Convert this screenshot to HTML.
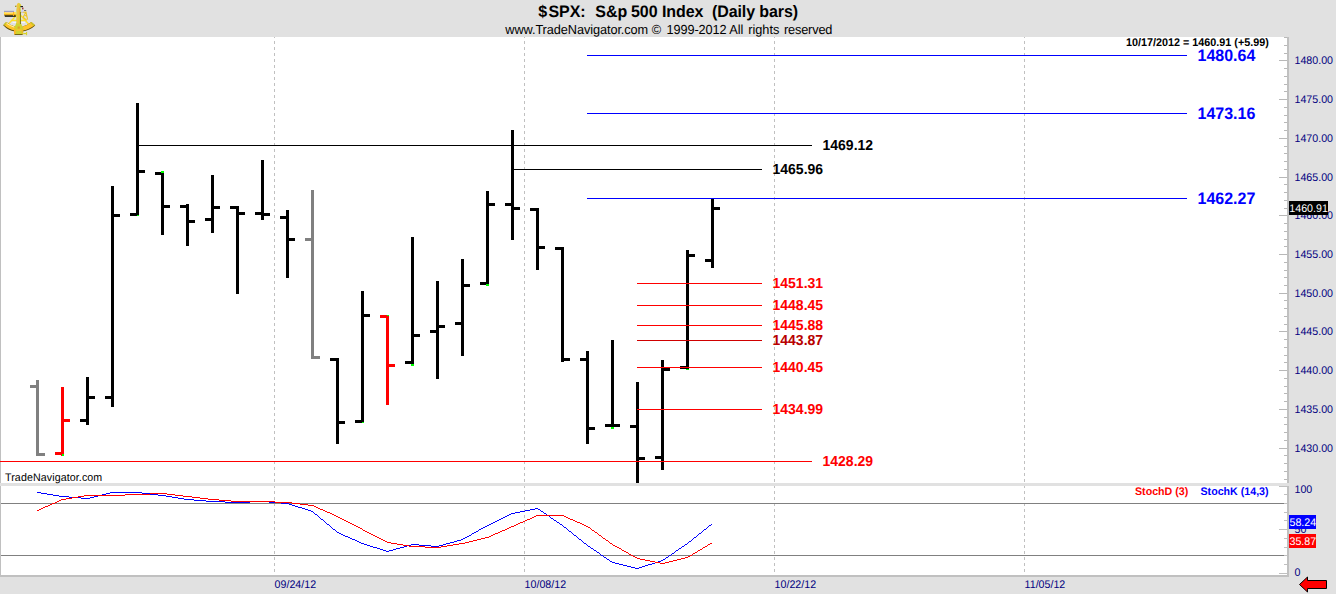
<!DOCTYPE html>
<html><head><meta charset="utf-8"><title>$SPX: S&amp;p 500 Index (Daily bars)</title>
<style>
html,body{margin:0;padding:0;width:1336px;height:594px;overflow:hidden;background:#e1e1e1;font-family:"Liberation Sans", sans-serif;}
</style></head><body>
<svg width="1336" height="594" viewBox="0 0 1336 594" style="position:absolute;left:0;top:0;display:block" shape-rendering="crispEdges">
<rect x="0" y="0" width="1336" height="594" fill="#e1e1e1"/>
<rect x="1" y="37" width="1286" height="446" fill="#ffffff"/>
<rect x="1" y="486" width="1286" height="89" fill="#ffffff"/>
<line x1="274.5" y1="35" x2="274.5" y2="575" stroke="#c0c0c0" stroke-width="1" stroke-dasharray="3 3"/>
<line x1="524.5" y1="35" x2="524.5" y2="575" stroke="#c0c0c0" stroke-width="1" stroke-dasharray="3 3"/>
<line x1="774.5" y1="35" x2="774.5" y2="575" stroke="#c0c0c0" stroke-width="1" stroke-dasharray="3 3"/>
<line x1="1024.5" y1="35" x2="1024.5" y2="575" stroke="#c0c0c0" stroke-width="1" stroke-dasharray="3 3"/>
<rect x="0" y="0" width="1336" height="37" fill="#e1e1e1"/>
<rect x="0" y="37" width="1" height="540" fill="#c0c0c0"/>
<rect x="0" y="575" width="1289" height="2" fill="#c0c0c0"/>
<rect x="1287" y="37" width="2" height="540" fill="#c0c0c0"/>
<rect x="0" y="483" width="1289" height="3" fill="#e1e1e1"/>
<rect x="1" y="503" width="1283" height="1" fill="#808080"/>
<rect x="1" y="555" width="1283" height="1" fill="#808080"/>
<rect x="1284" y="479" width="3" height="1" fill="#b8b8b8"/>
<rect x="1284" y="471" width="3" height="1" fill="#b8b8b8"/>
<rect x="1284" y="463" width="3" height="1" fill="#b8b8b8"/>
<rect x="1284" y="455" width="3" height="1" fill="#b8b8b8"/>
<rect x="1279" y="448" width="8" height="1" fill="#b8b8b8"/>
<rect x="1284" y="440" width="3" height="1" fill="#b8b8b8"/>
<rect x="1284" y="432" width="3" height="1" fill="#b8b8b8"/>
<rect x="1284" y="424" width="3" height="1" fill="#b8b8b8"/>
<rect x="1284" y="417" width="3" height="1" fill="#b8b8b8"/>
<rect x="1279" y="409" width="8" height="1" fill="#b8b8b8"/>
<rect x="1284" y="401" width="3" height="1" fill="#b8b8b8"/>
<rect x="1284" y="393" width="3" height="1" fill="#b8b8b8"/>
<rect x="1284" y="386" width="3" height="1" fill="#b8b8b8"/>
<rect x="1284" y="378" width="3" height="1" fill="#b8b8b8"/>
<rect x="1279" y="370" width="8" height="1" fill="#b8b8b8"/>
<rect x="1284" y="362" width="3" height="1" fill="#b8b8b8"/>
<rect x="1284" y="355" width="3" height="1" fill="#b8b8b8"/>
<rect x="1284" y="347" width="3" height="1" fill="#b8b8b8"/>
<rect x="1284" y="339" width="3" height="1" fill="#b8b8b8"/>
<rect x="1279" y="331" width="8" height="1" fill="#b8b8b8"/>
<rect x="1284" y="324" width="3" height="1" fill="#b8b8b8"/>
<rect x="1284" y="316" width="3" height="1" fill="#b8b8b8"/>
<rect x="1284" y="308" width="3" height="1" fill="#b8b8b8"/>
<rect x="1284" y="300" width="3" height="1" fill="#b8b8b8"/>
<rect x="1279" y="293" width="8" height="1" fill="#b8b8b8"/>
<rect x="1284" y="285" width="3" height="1" fill="#b8b8b8"/>
<rect x="1284" y="277" width="3" height="1" fill="#b8b8b8"/>
<rect x="1284" y="270" width="3" height="1" fill="#b8b8b8"/>
<rect x="1284" y="262" width="3" height="1" fill="#b8b8b8"/>
<rect x="1279" y="254" width="8" height="1" fill="#b8b8b8"/>
<rect x="1284" y="246" width="3" height="1" fill="#b8b8b8"/>
<rect x="1284" y="239" width="3" height="1" fill="#b8b8b8"/>
<rect x="1284" y="231" width="3" height="1" fill="#b8b8b8"/>
<rect x="1284" y="223" width="3" height="1" fill="#b8b8b8"/>
<rect x="1279" y="215" width="8" height="1" fill="#b8b8b8"/>
<rect x="1284" y="208" width="3" height="1" fill="#b8b8b8"/>
<rect x="1284" y="200" width="3" height="1" fill="#b8b8b8"/>
<rect x="1284" y="192" width="3" height="1" fill="#b8b8b8"/>
<rect x="1284" y="184" width="3" height="1" fill="#b8b8b8"/>
<rect x="1279" y="177" width="8" height="1" fill="#b8b8b8"/>
<rect x="1284" y="169" width="3" height="1" fill="#b8b8b8"/>
<rect x="1284" y="161" width="3" height="1" fill="#b8b8b8"/>
<rect x="1284" y="153" width="3" height="1" fill="#b8b8b8"/>
<rect x="1284" y="146" width="3" height="1" fill="#b8b8b8"/>
<rect x="1279" y="138" width="8" height="1" fill="#b8b8b8"/>
<rect x="1284" y="130" width="3" height="1" fill="#b8b8b8"/>
<rect x="1284" y="122" width="3" height="1" fill="#b8b8b8"/>
<rect x="1284" y="115" width="3" height="1" fill="#b8b8b8"/>
<rect x="1284" y="107" width="3" height="1" fill="#b8b8b8"/>
<rect x="1279" y="99" width="8" height="1" fill="#b8b8b8"/>
<rect x="1284" y="91" width="3" height="1" fill="#b8b8b8"/>
<rect x="1284" y="84" width="3" height="1" fill="#b8b8b8"/>
<rect x="1284" y="76" width="3" height="1" fill="#b8b8b8"/>
<rect x="1284" y="68" width="3" height="1" fill="#b8b8b8"/>
<rect x="1279" y="60" width="8" height="1" fill="#b8b8b8"/>
<rect x="1284" y="53" width="3" height="1" fill="#b8b8b8"/>
<rect x="1284" y="45" width="3" height="1" fill="#b8b8b8"/>
<rect x="1284" y="37" width="3" height="1" fill="#b8b8b8"/>
<rect x="1279" y="573" width="8" height="1" fill="#c0c0c0"/>
<rect x="1284" y="564" width="3" height="1" fill="#c0c0c0"/>
<rect x="1284" y="555" width="3" height="1" fill="#c0c0c0"/>
<rect x="1284" y="547" width="3" height="1" fill="#c0c0c0"/>
<rect x="1284" y="538" width="3" height="1" fill="#c0c0c0"/>
<rect x="1279" y="529" width="8" height="1" fill="#c0c0c0"/>
<rect x="1284" y="520" width="3" height="1" fill="#c0c0c0"/>
<rect x="1284" y="512" width="3" height="1" fill="#c0c0c0"/>
<rect x="1284" y="503" width="3" height="1" fill="#c0c0c0"/>
<rect x="1284" y="494" width="3" height="1" fill="#c0c0c0"/>
<rect x="1279" y="486" width="8" height="1" fill="#c0c0c0"/>
<rect x="36" y="380" width="3" height="76" fill="#808080"/>
<rect x="30" y="385" width="6" height="3" fill="#808080"/>
<rect x="39" y="453" width="6" height="3" fill="#808080"/>
<rect x="61" y="387" width="3" height="69" fill="#ff0000"/>
<rect x="55" y="452" width="6" height="3" fill="#ff0000"/>
<rect x="64" y="419" width="6" height="3" fill="#ff0000"/>
<rect x="86" y="377" width="3" height="48" fill="#000000"/>
<rect x="80" y="419" width="6" height="3" fill="#000000"/>
<rect x="89" y="396" width="6" height="3" fill="#000000"/>
<rect x="111" y="186" width="3" height="221" fill="#000000"/>
<rect x="105" y="396" width="6" height="3" fill="#000000"/>
<rect x="114" y="214" width="6" height="3" fill="#000000"/>
<rect x="136" y="103" width="3" height="113" fill="#000000"/>
<rect x="130" y="213" width="6" height="3" fill="#000000"/>
<rect x="139" y="170" width="6" height="3" fill="#000000"/>
<rect x="161" y="171" width="3" height="64" fill="#000000"/>
<rect x="155" y="172" width="6" height="3" fill="#000000"/>
<rect x="164" y="205" width="6" height="3" fill="#000000"/>
<rect x="186" y="204" width="3" height="42" fill="#000000"/>
<rect x="180" y="205" width="6" height="3" fill="#000000"/>
<rect x="189" y="220" width="6" height="3" fill="#000000"/>
<rect x="211" y="175" width="3" height="58" fill="#000000"/>
<rect x="205" y="218" width="6" height="3" fill="#000000"/>
<rect x="214" y="206" width="6" height="3" fill="#000000"/>
<rect x="236" y="206" width="3" height="88" fill="#000000"/>
<rect x="230" y="206" width="6" height="3" fill="#000000"/>
<rect x="239" y="212" width="6" height="3" fill="#000000"/>
<rect x="261" y="160" width="3" height="60" fill="#000000"/>
<rect x="255" y="212" width="6" height="3" fill="#000000"/>
<rect x="264" y="213" width="6" height="3" fill="#000000"/>
<rect x="286" y="210" width="3" height="68" fill="#000000"/>
<rect x="280" y="216" width="6" height="3" fill="#000000"/>
<rect x="289" y="238" width="6" height="3" fill="#000000"/>
<rect x="311" y="190" width="3" height="169" fill="#808080"/>
<rect x="305" y="238" width="6" height="3" fill="#808080"/>
<rect x="314" y="356" width="6" height="3" fill="#808080"/>
<rect x="336" y="358" width="3" height="86" fill="#000000"/>
<rect x="330" y="358" width="6" height="3" fill="#000000"/>
<rect x="339" y="421" width="6" height="3" fill="#000000"/>
<rect x="361" y="291" width="3" height="132" fill="#000000"/>
<rect x="355" y="420" width="6" height="3" fill="#000000"/>
<rect x="364" y="314" width="6" height="3" fill="#000000"/>
<rect x="386" y="315" width="3" height="90" fill="#ff0000"/>
<rect x="380" y="315" width="6" height="3" fill="#ff0000"/>
<rect x="389" y="364" width="6" height="3" fill="#ff0000"/>
<rect x="411" y="237" width="3" height="129" fill="#000000"/>
<rect x="405" y="361" width="6" height="3" fill="#000000"/>
<rect x="414" y="334" width="6" height="3" fill="#000000"/>
<rect x="436" y="281" width="3" height="98" fill="#000000"/>
<rect x="430" y="330" width="6" height="3" fill="#000000"/>
<rect x="439" y="325" width="6" height="3" fill="#000000"/>
<rect x="461" y="259" width="3" height="97" fill="#000000"/>
<rect x="455" y="322" width="6" height="3" fill="#000000"/>
<rect x="464" y="284" width="6" height="3" fill="#000000"/>
<rect x="486" y="191" width="3" height="95" fill="#000000"/>
<rect x="480" y="282" width="6" height="3" fill="#000000"/>
<rect x="489" y="203" width="6" height="3" fill="#000000"/>
<rect x="511" y="130" width="3" height="110" fill="#000000"/>
<rect x="505" y="203" width="6" height="3" fill="#000000"/>
<rect x="514" y="207" width="6" height="3" fill="#000000"/>
<rect x="536" y="208" width="3" height="62" fill="#000000"/>
<rect x="530" y="208" width="6" height="3" fill="#000000"/>
<rect x="539" y="246" width="6" height="3" fill="#000000"/>
<rect x="561" y="247" width="3" height="115" fill="#000000"/>
<rect x="555" y="247" width="6" height="3" fill="#000000"/>
<rect x="564" y="358" width="6" height="3" fill="#000000"/>
<rect x="586" y="351" width="3" height="93" fill="#000000"/>
<rect x="580" y="358" width="6" height="3" fill="#000000"/>
<rect x="589" y="427" width="6" height="3" fill="#000000"/>
<rect x="611" y="340" width="3" height="89" fill="#000000"/>
<rect x="605" y="424" width="6" height="3" fill="#000000"/>
<rect x="614" y="424" width="6" height="3" fill="#000000"/>
<rect x="636" y="382" width="3" height="101" fill="#000000"/>
<rect x="630" y="425" width="6" height="3" fill="#000000"/>
<rect x="639" y="457" width="6" height="3" fill="#000000"/>
<rect x="661" y="360" width="3" height="110" fill="#000000"/>
<rect x="655" y="456" width="6" height="3" fill="#000000"/>
<rect x="664" y="368" width="6" height="3" fill="#000000"/>
<rect x="686" y="250" width="3" height="120" fill="#000000"/>
<rect x="680" y="366" width="6" height="3" fill="#000000"/>
<rect x="689" y="254" width="6" height="3" fill="#000000"/>
<rect x="711" y="198" width="3" height="70" fill="#000000"/>
<rect x="705" y="259" width="6" height="3" fill="#000000"/>
<rect x="714" y="207" width="6" height="3" fill="#000000"/>
<rect x="62" y="454" width="2" height="2" fill="#00ff00"/>
<rect x="137" y="215" width="2" height="1" fill="#00ff00"/>
<rect x="161" y="171" width="3" height="2" fill="#00ff00"/>
<rect x="362" y="422" width="2" height="1" fill="#00ff00"/>
<rect x="387" y="315" width="2" height="1" fill="#00ff00"/>
<rect x="411" y="364" width="3" height="2" fill="#00ff00"/>
<rect x="486" y="284" width="3" height="2" fill="#00ff00"/>
<rect x="611" y="427" width="3" height="2" fill="#00ff00"/>
<rect x="686" y="369" width="3" height="1" fill="#00ff00"/>
<rect x="587" y="55" width="600" height="1" fill="#0000ff"/>
<rect x="587" y="113" width="600" height="1" fill="#0000ff"/>
<rect x="587" y="198" width="600" height="1" fill="#0000ff"/>
<rect x="139" y="145" width="673" height="1" fill="#000000"/>
<rect x="514" y="169" width="248" height="1" fill="#000000"/>
<rect x="637" y="283" width="125" height="1" fill="#ff0000"/>
<rect x="637" y="305" width="125" height="1" fill="#ff0000"/>
<rect x="637" y="325" width="125" height="1" fill="#ff0000"/>
<rect x="637" y="367" width="125" height="1" fill="#ff0000"/>
<rect x="637" y="409" width="125" height="1" fill="#ff0000"/>
<rect x="637" y="340" width="125" height="1" fill="#d00000"/>
<rect x="0" y="461" width="812" height="1" fill="#ff0000"/>
<path d="M37 492h4v1h-4zM41 493h6v1h-6zM47 494h6v1h-6zM53 495h6v1h-6zM59 496h10v1h-10zM69 497h12v1h-12zM81 498h9v1h-9zM90 497h4v1h-4zM94 496h4v1h-4zM98 495h4v1h-4zM102 494h4v1h-4zM106 493h4v1h-4zM110 492h32v1h-32zM142 493h8v1h-8zM150 494h8v1h-8zM158 495h8v1h-8zM166 496h6v1h-6zM172 497h6v1h-6zM178 498h6v1h-6zM184 499h10v1h-10zM194 500h12v1h-12zM206 501h19v1h-19zM225 502h25v1h-25zM250 501h19v1h-19zM269 502h12v1h-12zM281 503h8v1h-8zM289 504h3v1h-3zM292 505h3v1h-3zM295 506h3v1h-3zM298 507h4v1h-4zM302 508h3v1h-3zM305 509h3v1h-3zM308 510h3v1h-3zM311 511h2v1h-2zM313 512h1v1h-1zM314 513h1v1h-1zM315 514h2v1h-2zM317 515h1v1h-1zM318 516h1v1h-1zM319 517h1v1h-1zM320 518h1v1h-1zM321 519h2v1h-2zM323 520h1v1h-1zM324 521h1v1h-1zM325 522h1v1h-1zM326 523h1v1h-1zM327 524h2v1h-2zM329 525h1v1h-1zM330 526h1v1h-1zM331 527h1v1h-1zM332 528h1v1h-1zM333 529h2v1h-2zM335 530h1v1h-1zM336 531h1v1h-1zM337 532h2v1h-2zM339 533h2v1h-2zM341 534h2v1h-2zM343 535h2v1h-2zM345 536h3v1h-3zM348 537h2v1h-2zM350 538h2v1h-2zM352 539h3v1h-3zM355 540h2v1h-2zM357 541h2v1h-2zM359 542h2v1h-2zM361 543h3v1h-3zM364 544h3v1h-3zM367 545h3v1h-3zM370 546h3v1h-3zM373 547h4v1h-4zM377 548h3v1h-3zM380 549h3v1h-3zM383 550h3v1h-3zM386 551h3v1h-3zM389 550h4v1h-4zM393 549h3v1h-3zM396 548h4v1h-4zM400 547h4v1h-4zM404 546h3v1h-3zM407 545h4v1h-4zM411 544h8v1h-8zM419 545h12v1h-12zM431 546h8v1h-8zM439 545h4v1h-4zM443 544h3v1h-3zM446 543h4v1h-4zM450 542h4v1h-4zM454 541h3v1h-3zM457 540h4v1h-4zM461 539h2v1h-2zM463 538h2v1h-2zM465 537h2v1h-2zM467 536h2v1h-2zM469 535h2v1h-2zM471 534h1v1h-1zM472 533h2v1h-2zM474 532h2v1h-2zM476 531h2v1h-2zM478 530h1v1h-1zM479 529h2v1h-2zM481 528h2v1h-2zM483 527h2v1h-2zM485 526h2v1h-2zM487 525h2v1h-2zM489 524h2v1h-2zM491 523h2v1h-2zM493 522h2v1h-2zM495 521h2v1h-2zM497 520h2v1h-2zM499 519h2v1h-2zM501 518h2v1h-2zM503 517h2v1h-2zM505 516h2v1h-2zM507 515h2v1h-2zM509 514h2v1h-2zM511 513h4v1h-4zM515 512h5v1h-5zM520 511h5v1h-5zM525 510h5v1h-5zM530 509h5v1h-5zM535 508h3v1h-3zM538 509h2v1h-2zM540 510h1v1h-1zM541 511h2v1h-2zM543 512h1v1h-1zM544 513h2v1h-2zM546 514h1v1h-1zM547 515h2v1h-2zM549 516h1v1h-1zM550 517h1v1h-1zM551 518h2v1h-2zM553 519h1v1h-1zM554 520h2v1h-2zM556 521h1v1h-1zM557 522h2v1h-2zM559 523h1v1h-1zM560 524h2v1h-2zM562 525h1v1h-1zM563 526h1v1h-1zM564 527h2v1h-2zM566 528h1v1h-1zM567 529h1v1h-1zM568 530h1v1h-1zM569 531h2v1h-2zM571 532h1v1h-1zM572 533h1v1h-1zM573 534h1v1h-1zM574 535h2v1h-2zM576 536h1v1h-1zM577 537h1v1h-1zM578 538h1v1h-1zM579 539h2v1h-2zM581 540h1v1h-1zM582 541h1v1h-1zM583 542h1v1h-1zM584 543h2v1h-2zM586 544h1v1h-1zM587 545h1v1h-1zM588 546h2v1h-2zM590 547h1v1h-1zM591 548h2v1h-2zM593 549h1v1h-1zM594 550h2v1h-2zM596 551h1v1h-1zM597 552h2v1h-2zM599 553h1v1h-1zM600 554h1v1h-1zM601 555h2v1h-2zM603 556h1v1h-1zM604 557h2v1h-2zM606 558h1v1h-1zM607 559h2v1h-2zM609 560h1v1h-1zM610 561h2v1h-2zM612 562h3v1h-3zM615 563h4v1h-4zM619 564h4v1h-4zM623 565h4v1h-4zM627 566h4v1h-4zM631 567h4v1h-4zM635 568h4v1h-4zM639 567h3v1h-3zM642 566h3v1h-3zM645 565h3v1h-3zM648 564h4v1h-4zM652 563h3v1h-3zM655 562h3v1h-3zM658 561h3v1h-3zM661 560h2v1h-2zM663 559h2v1h-2zM665 558h1v1h-1zM666 557h2v1h-2zM668 556h1v1h-1zM669 555h2v1h-2zM671 554h1v1h-1zM672 553h2v1h-2zM674 552h1v1h-1zM675 551h1v1h-1zM676 550h2v1h-2zM678 549h1v1h-1zM679 548h2v1h-2zM681 547h1v1h-1zM682 546h2v1h-2zM684 545h1v1h-1zM685 544h2v1h-2zM687 543h1v1h-1zM688 542h1v1h-1zM689 541h2v1h-2zM691 540h1v1h-1zM692 539h1v1h-1zM693 538h1v1h-1zM694 537h2v1h-2zM696 536h1v1h-1zM697 535h1v1h-1zM698 534h1v1h-1zM699 533h2v1h-2zM701 532h1v1h-1zM702 531h1v1h-1zM703 530h1v1h-1zM704 529h2v1h-2zM706 528h1v1h-1zM707 527h1v1h-1zM708 526h1v1h-1zM709 525h2v1h-2zM711 524h1v1h-1z" fill="#0000ff"/>
<path d="M37 510h2v1h-2zM39 509h2v1h-2zM41 508h2v1h-2zM43 507h2v1h-2zM45 506h3v1h-3zM48 505h2v1h-2zM50 504h2v1h-2zM52 503h3v1h-3zM55 502h2v1h-2zM57 501h2v1h-2zM59 500h2v1h-2zM61 499h5v1h-5zM66 498h6v1h-6zM72 497h6v1h-6zM78 496h6v1h-6zM84 495h41v1h-41zM125 494h25v1h-25zM150 493h17v1h-17zM167 494h8v1h-8zM175 495h8v1h-8zM183 496h9v1h-9zM192 497h8v1h-8zM200 498h8v1h-8zM208 499h11v1h-11zM219 500h12v1h-12zM231 501h44v1h-44zM275 502h17v1h-17zM292 503h8v1h-8zM300 504h8v1h-8zM308 505h6v1h-6zM314 506h2v1h-2zM316 507h2v1h-2zM318 508h2v1h-2zM320 509h3v1h-3zM323 510h2v1h-2zM325 511h2v1h-2zM327 512h3v1h-3zM330 513h2v1h-2zM332 514h2v1h-2zM334 515h2v1h-2zM336 516h2v1h-2zM338 517h2v1h-2zM340 518h2v1h-2zM342 519h2v1h-2zM344 520h2v1h-2zM346 521h2v1h-2zM348 522h2v1h-2zM350 523h2v1h-2zM352 524h2v1h-2zM354 525h2v1h-2zM356 526h2v1h-2zM358 527h2v1h-2zM360 528h2v1h-2zM362 529h1v1h-1zM363 530h2v1h-2zM365 531h2v1h-2zM367 532h2v1h-2zM369 533h2v1h-2zM371 534h2v1h-2zM373 535h2v1h-2zM375 536h2v1h-2zM377 537h2v1h-2zM379 538h2v1h-2zM381 539h2v1h-2zM383 540h2v1h-2zM385 541h2v1h-2zM387 542h4v1h-4zM391 543h6v1h-6zM397 544h6v1h-6zM403 545h6v1h-6zM409 546h16v1h-16zM425 547h16v1h-16zM441 546h6v1h-6zM447 545h6v1h-6zM453 544h6v1h-6zM459 543h6v1h-6zM465 542h4v1h-4zM469 541h4v1h-4zM473 540h4v1h-4zM477 539h4v1h-4zM481 538h4v1h-4zM485 537h4v1h-4zM489 536h2v1h-2zM491 535h2v1h-2zM493 534h2v1h-2zM495 533h3v1h-3zM498 532h2v1h-2zM500 531h2v1h-2zM502 530h3v1h-3zM505 529h2v1h-2zM507 528h2v1h-2zM509 527h2v1h-2zM511 526h3v1h-3zM514 525h2v1h-2zM516 524h2v1h-2zM518 523h2v1h-2zM520 522h3v1h-3zM523 521h2v1h-2zM525 520h2v1h-2zM527 519h3v1h-3zM530 518h2v1h-2zM532 517h2v1h-2zM534 516h2v1h-2zM536 515h28v1h-28zM564 516h2v1h-2zM566 517h2v1h-2zM568 518h2v1h-2zM570 519h3v1h-3zM573 520h2v1h-2zM575 521h2v1h-2zM577 522h3v1h-3zM580 523h2v1h-2zM582 524h2v1h-2zM584 525h2v1h-2zM586 526h2v1h-2zM588 527h2v1h-2zM590 528h1v1h-1zM591 529h1v1h-1zM592 530h2v1h-2zM594 531h1v1h-1zM595 532h2v1h-2zM597 533h1v1h-1zM598 534h1v1h-1zM599 535h2v1h-2zM601 536h1v1h-1zM602 537h1v1h-1zM603 538h2v1h-2zM605 539h1v1h-1zM606 540h2v1h-2zM608 541h1v1h-1zM609 542h1v1h-1zM610 543h2v1h-2zM612 544h1v1h-1zM613 545h2v1h-2zM615 546h2v1h-2zM617 547h2v1h-2zM619 548h2v1h-2zM621 549h1v1h-1zM622 550h2v1h-2zM624 551h2v1h-2zM626 552h2v1h-2zM628 553h1v1h-1zM629 554h2v1h-2zM631 555h2v1h-2zM633 556h2v1h-2zM635 557h2v1h-2zM637 558h3v1h-3zM640 559h5v1h-5zM645 560h5v1h-5zM650 561h5v1h-5zM655 562h5v1h-5zM660 563h5v1h-5zM665 562h4v1h-4zM669 561h4v1h-4zM673 560h4v1h-4zM677 559h4v1h-4zM681 558h4v1h-4zM685 557h3v1h-3zM688 556h2v1h-2zM690 555h2v1h-2zM692 554h1v1h-1zM693 553h2v1h-2zM695 552h2v1h-2zM697 551h1v1h-1zM698 550h2v1h-2zM700 549h2v1h-2zM702 548h1v1h-1zM703 547h2v1h-2zM705 546h2v1h-2zM707 545h1v1h-1zM708 544h2v1h-2zM710 543h2v1h-2z" fill="#ff0000"/>
<rect x="1289" y="201" width="39" height="14" fill="#000000"/>
<rect x="1289" y="515" width="27" height="14" fill="#0000ff"/>
<rect x="1289" y="534" width="27" height="14" fill="#ff0000"/>
<polygon points="1299.5,584.5 1307.5,577 1307.5,580.5 1326.5,580.5 1326.5,588.5 1307.5,588.5 1307.5,592" fill="#ff0000" stroke="#000000" stroke-width="1" shape-rendering="auto"/>
<g shape-rendering="auto" text-rendering="geometricPrecision">
<g transform="translate(0,16.9) scale(1,1.035) translate(0,-16.9)">
<text x="538.3" y="16.9" font-family='"Liberation Sans", sans-serif' font-size="16" font-weight="bold" fill="#000000" text-anchor="start"  >$</text>
<text x="548.6" y="16.9" font-family='"Liberation Sans", sans-serif' font-size="16" font-weight="bold" fill="#000000" text-anchor="start" letter-spacing="-0.15" >SPX:</text>
<text x="595.33" y="16.9" font-family='"Liberation Sans", sans-serif' font-size="16" font-weight="bold" fill="#000000" text-anchor="start"  >S&amp;p</text>
<text x="630.88" y="16.9" font-family='"Liberation Sans", sans-serif' font-size="16" font-weight="bold" fill="#000000" text-anchor="start"  >500</text>
<text x="662.02" y="16.9" font-family='"Liberation Sans", sans-serif' font-size="16" font-weight="bold" fill="#000000" text-anchor="start" letter-spacing="-0.1" >Index&#160; (Daily bars)</text>
</g>
<text x="505.3" y="33.7" font-family='"Liberation Sans", sans-serif' font-size="12.75" font-weight="normal" fill="#000000" text-anchor="start" letter-spacing="-0.09" transform="translate(0,33.7) scale(1,1.035) translate(0,-33.7)">www.TradeNavigator.com</text>
<text x="651.63" y="33.7" font-family='"Liberation Sans", sans-serif' font-size="12.75" font-weight="normal" fill="#000000" text-anchor="start"  transform="translate(0,33.7) scale(1,1.035) translate(0,-33.7)">©</text>
<text x="666.57" y="33.7" font-family='"Liberation Sans", sans-serif' font-size="12.75" font-weight="normal" fill="#000000" text-anchor="start" letter-spacing="-0.12" transform="translate(0,33.7) scale(1,1.035) translate(0,-33.7)">1999-2012</text>
<text x="729.28" y="33.7" font-family='"Liberation Sans", sans-serif' font-size="12.75" font-weight="normal" fill="#000000" text-anchor="start"  transform="translate(0,33.7) scale(1,1.035) translate(0,-33.7)">All</text>
<text x="748.2" y="33.7" font-family='"Liberation Sans", sans-serif' font-size="12.75" font-weight="normal" fill="#000000" text-anchor="start"  transform="translate(0,33.7) scale(1,1.035) translate(0,-33.7)">rights</text>
<text x="783.92" y="33.7" font-family='"Liberation Sans", sans-serif' font-size="12.75" font-weight="normal" fill="#000000" text-anchor="start" letter-spacing="-0.15" transform="translate(0,33.7) scale(1,1.035) translate(0,-33.7)">reserved</text>
<text x="1126" y="46.2" font-family='"Liberation Sans", sans-serif' font-size="10.8" font-weight="bold" fill="#000000" text-anchor="start"  transform="translate(0,46.2) scale(1,1.035) translate(0,-46.2)">10/17/2012 = 1460.91 (+5.99)</text>
<text x="1197.5" y="60.8" font-family='"Liberation Sans", sans-serif' font-size="16" font-weight="bold" fill="#0000ff" text-anchor="start"  transform="translate(0,60.8) scale(1,1.035) translate(0,-60.8)">1480.64</text>
<text x="1197.5" y="118.8" font-family='"Liberation Sans", sans-serif' font-size="16" font-weight="bold" fill="#0000ff" text-anchor="start"  transform="translate(0,118.8) scale(1,1.035) translate(0,-118.8)">1473.16</text>
<text x="1197.5" y="203.8" font-family='"Liberation Sans", sans-serif' font-size="16" font-weight="bold" fill="#0000ff" text-anchor="start"  transform="translate(0,203.8) scale(1,1.035) translate(0,-203.8)">1462.27</text>
<text x="822.5" y="150.3" font-family='"Liberation Sans", sans-serif' font-size="14" font-weight="bold" fill="#000000" text-anchor="start"  transform="translate(0,150.3) scale(1,1.035) translate(0,-150.3)">1469.12</text>
<text x="772.5" y="174.3" font-family='"Liberation Sans", sans-serif' font-size="14" font-weight="bold" fill="#000000" text-anchor="start"  transform="translate(0,174.3) scale(1,1.035) translate(0,-174.3)">1465.96</text>
<text x="772.5" y="287.9" font-family='"Liberation Sans", sans-serif' font-size="14" font-weight="bold" fill="#ff0000" text-anchor="start"  transform="translate(0,287.9) scale(1,1.035) translate(0,-287.9)">1451.31</text>
<text x="772.5" y="309.9" font-family='"Liberation Sans", sans-serif' font-size="14" font-weight="bold" fill="#ff0000" text-anchor="start"  transform="translate(0,309.9) scale(1,1.035) translate(0,-309.9)">1448.45</text>
<text x="772.5" y="329.9" font-family='"Liberation Sans", sans-serif' font-size="14" font-weight="bold" fill="#ff0000" text-anchor="start"  transform="translate(0,329.9) scale(1,1.035) translate(0,-329.9)">1445.88</text>
<text x="772.5" y="344.9" font-family='"Liberation Sans", sans-serif' font-size="14" font-weight="bold" fill="#b80000" text-anchor="start"  transform="translate(0,344.9) scale(1,1.035) translate(0,-344.9)">1443.87</text>
<text x="772.5" y="371.9" font-family='"Liberation Sans", sans-serif' font-size="14" font-weight="bold" fill="#ff0000" text-anchor="start"  transform="translate(0,371.9) scale(1,1.035) translate(0,-371.9)">1440.45</text>
<text x="772.5" y="413.9" font-family='"Liberation Sans", sans-serif' font-size="14" font-weight="bold" fill="#ff0000" text-anchor="start"  transform="translate(0,413.9) scale(1,1.035) translate(0,-413.9)">1434.99</text>
<text x="822.5" y="466.3" font-family='"Liberation Sans", sans-serif' font-size="14" font-weight="bold" fill="#ff0000" text-anchor="start"  transform="translate(0,466.3) scale(1,1.035) translate(0,-466.3)">1428.29</text>
<text x="5" y="481.3" font-family='"Liberation Sans", sans-serif' font-size="10.67" font-weight="normal" fill="#000000" text-anchor="start" letter-spacing="0.1" transform="translate(0,481.3) scale(1,1.035) translate(0,-481.3)">TradeNavigator.com</text>
<text x="1294.5" y="452.4" font-family='"Liberation Sans", sans-serif' font-size="10.67" font-weight="normal" fill="#000080" text-anchor="start"  transform="translate(0,452.4) scale(1,1.035) translate(0,-452.4)">1430.00</text>
<text x="1294.5" y="413.4" font-family='"Liberation Sans", sans-serif' font-size="10.67" font-weight="normal" fill="#000080" text-anchor="start"  transform="translate(0,413.4) scale(1,1.035) translate(0,-413.4)">1435.00</text>
<text x="1294.5" y="374.4" font-family='"Liberation Sans", sans-serif' font-size="10.67" font-weight="normal" fill="#000080" text-anchor="start"  transform="translate(0,374.4) scale(1,1.035) translate(0,-374.4)">1440.00</text>
<text x="1294.5" y="335.4" font-family='"Liberation Sans", sans-serif' font-size="10.67" font-weight="normal" fill="#000080" text-anchor="start"  transform="translate(0,335.4) scale(1,1.035) translate(0,-335.4)">1445.00</text>
<text x="1294.5" y="297.4" font-family='"Liberation Sans", sans-serif' font-size="10.67" font-weight="normal" fill="#000080" text-anchor="start"  transform="translate(0,297.4) scale(1,1.035) translate(0,-297.4)">1450.00</text>
<text x="1294.5" y="258.4" font-family='"Liberation Sans", sans-serif' font-size="10.67" font-weight="normal" fill="#000080" text-anchor="start"  transform="translate(0,258.4) scale(1,1.035) translate(0,-258.4)">1455.00</text>
<text x="1294.5" y="219.4" font-family='"Liberation Sans", sans-serif' font-size="10.67" font-weight="normal" fill="#000080" text-anchor="start"  transform="translate(0,219.4) scale(1,1.035) translate(0,-219.4)">1460.00</text>
<text x="1294.5" y="181.4" font-family='"Liberation Sans", sans-serif' font-size="10.67" font-weight="normal" fill="#000080" text-anchor="start"  transform="translate(0,181.4) scale(1,1.035) translate(0,-181.4)">1465.00</text>
<text x="1294.5" y="142.4" font-family='"Liberation Sans", sans-serif' font-size="10.67" font-weight="normal" fill="#000080" text-anchor="start"  transform="translate(0,142.4) scale(1,1.035) translate(0,-142.4)">1470.00</text>
<text x="1294.5" y="103.4" font-family='"Liberation Sans", sans-serif' font-size="10.67" font-weight="normal" fill="#000080" text-anchor="start"  transform="translate(0,103.4) scale(1,1.035) translate(0,-103.4)">1475.00</text>
<text x="1294.5" y="64.4" font-family='"Liberation Sans", sans-serif' font-size="10.67" font-weight="normal" fill="#000080" text-anchor="start"  transform="translate(0,64.4) scale(1,1.035) translate(0,-64.4)">1480.00</text>
<text x="1294.5" y="492.8" font-family='"Liberation Sans", sans-serif' font-size="10.67" font-weight="normal" fill="#000080" text-anchor="start"  transform="translate(0,492.8) scale(1,1.035) translate(0,-492.8)">100</text>
<text x="1294.5" y="533" font-family='"Liberation Sans", sans-serif' font-size="10.67" font-weight="normal" fill="#000080" text-anchor="start"  transform="translate(0,533) scale(1,1.035) translate(0,-533)">50</text>
<text x="1294.5" y="576" font-family='"Liberation Sans", sans-serif' font-size="10.67" font-weight="normal" fill="#000080" text-anchor="start"  transform="translate(0,576) scale(1,1.035) translate(0,-576)">0</text>
<rect x="1289" y="201" width="39" height="14" fill="#000000"/>
<rect x="1289" y="515" width="27" height="14" fill="#0000ff"/>
<rect x="1289" y="534" width="27" height="14" fill="#ff0000"/>
<text x="1289.3" y="212" font-family='"Liberation Sans", sans-serif' font-size="10.67" font-weight="normal" fill="#ffffff" text-anchor="start"  transform="translate(0,212) scale(1,1.035) translate(0,-212)">1460.91</text>
<text x="1289.5" y="526" font-family='"Liberation Sans", sans-serif' font-size="10.67" font-weight="normal" fill="#ffffff" text-anchor="start"  transform="translate(0,526) scale(1,1.035) translate(0,-526)">58.24</text>
<text x="1289.5" y="545" font-family='"Liberation Sans", sans-serif' font-size="10.67" font-weight="normal" fill="#ffffff" text-anchor="start"  transform="translate(0,545) scale(1,1.035) translate(0,-545)">35.87</text>
<text x="1135" y="495" font-family='"Liberation Sans", sans-serif' font-size="10.67" font-weight="bold" fill="#ff0000" text-anchor="start"  transform="translate(0,495) scale(1,1.035) translate(0,-495)">StochD (3)</text>
<text x="1200.5" y="495" font-family='"Liberation Sans", sans-serif' font-size="10.67" font-weight="bold" fill="#0000ff" text-anchor="start"  transform="translate(0,495) scale(1,1.035) translate(0,-495)">StochK (14,3)</text>
<text x="274.6" y="588.3" font-family='"Liberation Sans", sans-serif' font-size="10.67" font-weight="normal" fill="#000080" text-anchor="start" letter-spacing="0" transform="translate(0,588.3) scale(1,1.035) translate(0,-588.3)">09/24/12</text>
<text x="524.6" y="588.3" font-family='"Liberation Sans", sans-serif' font-size="10.67" font-weight="normal" fill="#000080" text-anchor="start" letter-spacing="0" transform="translate(0,588.3) scale(1,1.035) translate(0,-588.3)">10/08/12</text>
<text x="774.6" y="588.3" font-family='"Liberation Sans", sans-serif' font-size="10.67" font-weight="normal" fill="#000080" text-anchor="start" letter-spacing="0" transform="translate(0,588.3) scale(1,1.035) translate(0,-588.3)">10/22/12</text>
<text x="1024.6" y="588.3" font-family='"Liberation Sans", sans-serif' font-size="10.67" font-weight="normal" fill="#000080" text-anchor="start" letter-spacing="0" transform="translate(0,588.3) scale(1,1.035) translate(0,-588.3)">11/05/12</text>
</g>
<g shape-rendering="auto">
<!-- frame struts -->
<path d="M18.5,13 L8,24.5 M18.5,13 L29,24.5 M11,20.5 L26.5,20.5" stroke="#ffe028" stroke-width="1.3" fill="none"/>
<path d="M12.5,22.3 L16,22.3 M21.5,22.3 L25,22.3" stroke="#f4f4ff" stroke-width="1.2" fill="none"/>
<!-- arc band with dark underside -->
<path d="M3.2,25.3 L6.3,22 Q11,25.8 15,26.6 L15,31.6 Q8,30.6 3.2,25.3Z" fill="#5a4a08"/>
<path d="M35.2,25.6 L31.4,22 Q27,25.6 22.5,26.6 L22.5,31.6 Q29.5,30.8 35.2,25.6Z" fill="#5a4a08"/>
<path d="M3.6,24.6 L6.3,22 Q11,25.8 15,26.6 L15,30.6 Q8.5,29.8 3.6,24.6Z" fill="#ffc42a"/>
<path d="M34.8,24.9 L31.4,22 Q27,25.6 22.5,26.6 L22.5,30.6 Q29,29.8 34.8,24.9Z" fill="#ffc42a"/>
<path d="M3.6,24.6 L6.3,22 L7.2,23 L4.8,25.8Z" fill="#c8c428"/>
<path d="M34.8,24.9 L31.4,22 L30.4,23 L33.4,26Z" fill="#c8c428"/>
<path d="M6.5,23.2 Q10.5,26 14.5,27.2" stroke="#fff6b0" stroke-width="1" fill="none"/>
<!-- center base (trapezoid) -->
<path d="M16.4,23 L20.8,23 L23.3,28.5 L23.3,34.6 L14,34.6 L14,28.5Z" fill="#cfd230"/>
<rect x="14" y="28.5" width="1.7" height="5.6" fill="#ffb424"/>
<rect x="17.6" y="26.5" width="2.2" height="2.2" fill="#e0a028"/>
<rect x="16.5" y="29.5" width="5.6" height="1.3" fill="#ffc030"/>
<rect x="21.6" y="29.5" width="1.2" height="4" fill="#f0b028"/>
<rect x="14.6" y="34" width="8" height="0.9" fill="#6a5a08"/>
<!-- peg -->
<rect x="23.3" y="33" width="3" height="1.2" fill="#d8d228"/>
<rect x="26" y="32" width="1.1" height="3.2" fill="#d8d228"/>
<!-- pillar -->
<path d="M17.2,4.5 L20.2,4.5 L20.8,10 L20.8,24 L16.4,24 L16.4,10Z" fill="#d2d030"/>
<path d="M16.2,6.5 L17.2,4 L18.8,2.8 L20.6,4 L21.6,6.5Z" fill="#dcd030"/>
<rect x="17.3" y="3.6" width="1.2" height="20" fill="#ffbc4a"/>
<rect x="19" y="8" width="0.9" height="7" fill="#f0a838"/>
<rect x="20.2" y="12" width="0.8" height="12" fill="#6a6a10"/>
<rect x="15.1" y="5.7" width="1.2" height="1.2" fill="#908808"/>
<rect x="20.4" y="6" width="2.6" height="1.2" fill="#202020"/>
<rect x="22.2" y="7.6" width="1.2" height="1.8" fill="#8a1818"/>
<!-- mirror arm (outline style) -->
<path d="M21.2,12.3 L26,12 L27.6,19.6 M26,12 L23.2,17.2 M24.6,14.6 L27,16.6 M23.2,17.2 L26.6,20.2" stroke="#ecc428" stroke-width="1.15" fill="none"/>
<rect x="24" y="10" width="2.2" height="1" fill="#707070"/>
<rect x="21.3" y="10.3" width="1.8" height="2.2" fill="#c8c8ff"/>
<!-- telescope -->
<rect x="4" y="10.8" width="10" height="1.2" fill="#9aa0c0"/>
<rect x="4" y="12" width="11.8" height="2" fill="#ffe048"/>
<rect x="5" y="12" width="8" height="0.8" fill="#ffd0a0"/>
<rect x="4" y="14" width="11.8" height="1" fill="#e8a820"/>
<rect x="4.4" y="15" width="11.4" height="0.9" fill="#5a4c10"/>
<rect x="4.8" y="15.8" width="11" height="1" fill="#101008"/>
<rect x="13" y="12" width="0.9" height="4" fill="#ffb020"/>
</g>

</svg>
</body></html>
